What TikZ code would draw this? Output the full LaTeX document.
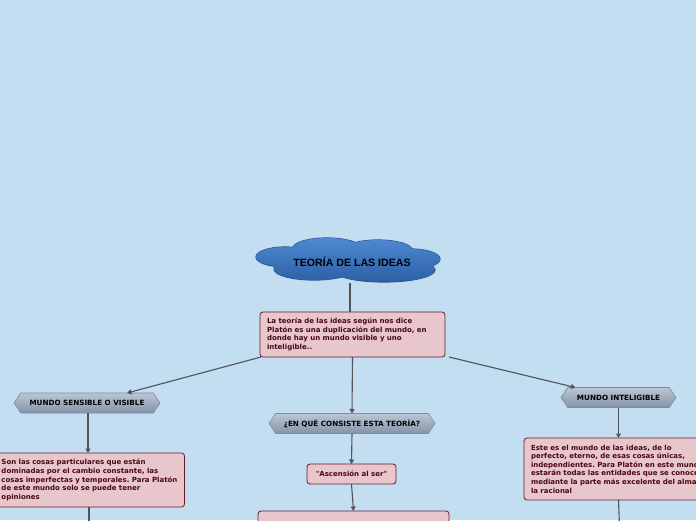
\documentclass[tikz,border=0pt]{standalone}
\usepackage{fontspec}
\usepackage{xcolor}
\usepackage{tikz}
\usetikzlibrary{arrows.meta,positioning,calc,shapes.symbols}

\newfontfamily\verdfont{DejaVu Sans}
\newfontfamily\titlefont{Liberation Sans}
\frenchspacing

\definecolor{bgblue}{HTML}{C3DDF1}
\definecolor{boxfill}{HTML}{E7C6CC}
\definecolor{boxline}{HTML}{6A1A2B}
\definecolor{boxtext}{HTML}{4B0716}
\definecolor{hextop}{HTML}{BCC6D4}
\definecolor{hexbot}{HTML}{8493A9}
\definecolor{hexline}{HTML}{7D8CA2}
\definecolor{cloudtop}{HTML}{4D89D2}
\definecolor{cloudbot}{HTML}{2D5FA4}
\definecolor{cloudline}{HTML}{2A5490}
\definecolor{linkgray}{HTML}{505358}

\begin{document}
\begin{tikzpicture}[
  x=1pt,y=-1pt,>={Triangle[length=4.5pt,width=5pt]},
  flow/.style={->,draw=linkgray,line width=1.1pt},
  link/.style={draw=linkgray,line width=1.1pt},
  note/.style={draw=boxline,line width=0.8pt,rounded corners=3pt,fill=boxfill,
    text=boxtext,align=left,inner xsep=7pt,inner ysep=4pt,
    font=\verdfont\bfseries\fontsize{7}{8.6}\selectfont},
  tag/.style={signal,signal to=west and east,signal pointer angle=112,
    draw=hexline,line width=0.6pt,top color=hextop,bottom color=hexbot,
    text=black,inner ysep=0pt,minimum height=20pt,
    font=\verdfont\bfseries\fontsize{7.2}{8}\selectfont},
  puffs/.style={top color=cloudtop,bottom color=cloudbot},
  every node/.style={outer sep=0pt}
]
  \useasboundingbox (0,0) rectangle (696,520);
  \fill[bgblue] (0,0) rectangle (696,520);
  \clip (0,0) rectangle (696,520);

  % cloud: outline first, then the filled union on top
  \foreach \cx/\cy/\rx/\ry in {285/257/29/10,327/248/34/10,378/250/34/10,
      411/259/29/10,314/269/40/11,384/270/51/12,349/261/62/14}
    \draw[cloudline,line width=1.2pt] (\cx,\cy) ellipse [x radius=\rx, y radius=\ry];
  \path[puffs] (285,257) ellipse [x radius=29, y radius=10]
    (327,248) ellipse [x radius=34, y radius=10]
    (378,250) ellipse [x radius=34, y radius=10]
    (411,259) ellipse [x radius=29, y radius=10]
    (314,269) ellipse [x radius=40, y radius=11]
    (384,270) ellipse [x radius=51, y radius=12]
    (349,261) ellipse [x radius=62, y radius=14];
  \node[minimum width=182pt,minimum height=42pt,
    font=\titlefont\bfseries\fontsize{10.6}{12}\selectfont] (title) at (352,262)
    {TEORÍA DE LAS IDEAS};

  \node[note,minimum width=185pt,minimum height=45pt,text width=171pt] (intro)
    at (352.5,334.5)
    {La teoría de las ideas según nos dice\\
     Platón es una duplicación del mundo, en\\
     donde hay un mundo visible y uno\\
     inteligible..};

  \node[tag,minimum width=146pt] (sensible) at (87,403)
    {MUNDO SENSIBLE O VISIBLE};
  \node[tag,minimum width=166pt] (question) at (352,423.5)
    {¿EN QUÉ CONSISTE ESTA TEORÍA?};
  \node[tag,minimum width=115pt] (intelig) at (618.5,397.5)
    {MUNDO INTELIGIBLE};

  \node[note,minimum width=190pt,minimum height=54pt,text width=176pt]
    (things) at (89.5,480)
    {Son las cosas particulares que están\\
     dominadas por el cambio constante, las\\
     cosas imperfectas y temporales. Para Platón\\
     de este mundo solo se puede tener\\
     opiniones};
  \node[note,align=center,minimum width=89pt,minimum height=20pt,inner ysep=2pt]
    (ascent) at (351.5,474) {"Ascensión al ser"};
  \node[note,anchor=north,minimum width=191pt,minimum height=50pt,
    text width=177pt,inner ysep=5pt] (aim) at (353.5,511)
    {Lo que se busca con esta teoría de se};
  \node[note,anchor=north west,minimum width=190pt,minimum height=62pt,
    text width=200pt] (ideas) at (524,438)
    {Este es el mundo de las ideas, de lo\\
     perfecto, eterno, de esas cosas únicas,\\
     independientes. Para Platón en este mundo\\
     estarán todas las entidades que se conocen\\
     mediante la parte más excelente del alma\\
     la racional};

  \coordinate (thingsend) at (89,540);
  \coordinate (ideasend) at (620,540);

  \draw[link] ([xshift=-2pt]title.south) -- ([xshift=-2pt]title.south |- intro.north);
  \draw[flow] ([xshift=1pt]intro.south west) -- ([xshift=40pt]sensible.north);
  \draw[flow] (intro.south) -- (question.north);
  \draw[flow] ([xshift=4pt]intro.south east) -- ([xshift=-43pt]intelig.north);
  \draw[flow] ([xshift=1pt]sensible.south) -- ([xshift=1pt]sensible.south |- things.north);
  \draw[flow] (question.south) -- (ascent.north);
  \draw[flow] (ascent.south) -- (aim.north);
  \draw[flow] (intelig.south) -- (intelig.south |- ideas.north);
  \draw[link] ([xshift=2pt]sensible.south |- things.south) -- (thingsend);
  \draw[link] (intelig.south |- ideas.south) -- (ideasend);
\end{tikzpicture}
\end{document}
